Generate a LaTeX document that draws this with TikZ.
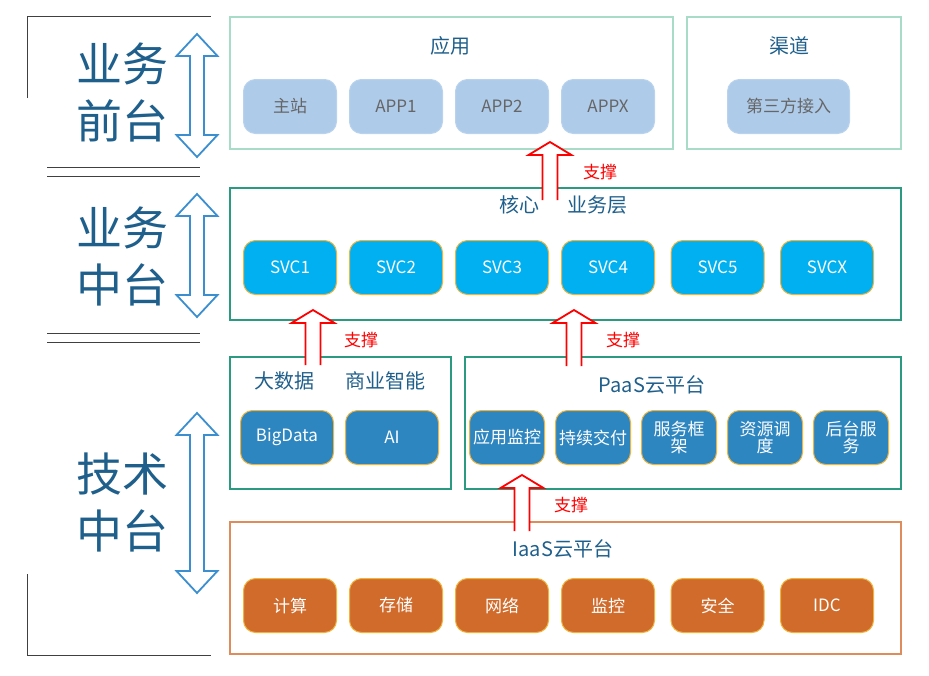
\documentclass[tikz,border=0pt]{standalone}
\usepackage{fontspec}
\setmainfont{Noto Sans CJK SC}
\usetikzlibrary{positioning,calc}
\definecolor{layerblue}{RGB}{31,95,139}
\definecolor{arrowblue}{RGB}{59,143,208}
\definecolor{frontgreen}{RGB}{168,220,200}
\definecolor{midteal}{RGB}{42,154,128}
\definecolor{iaasorange}{RGB}{222,140,92}
\definecolor{appfill}{RGB}{174,203,234}
\definecolor{svcfill}{RGB}{0,176,240}
\definecolor{paasfill}{RGB}{46,134,193}
\definecolor{iaasfill}{RGB}{208,107,43}
\definecolor{edgeamber}{RGB}{240,180,60}
\definecolor{rulegray}{RGB}{64,64,64}

\newcommand\supparrow[2]{\draw[supp] let \p1=(#1),\p2=(#2) in
  (\x1-7.5pt,\y1) -- (\x1-7.5pt,\y2-13pt) -- (\x1-21.5pt,\y2-13pt) -- (\x2,\y2)
  -- (\x1+21.5pt,\y2-13pt) -- (\x1+7.5pt,\y2-13pt) -- (\x1+7.5pt,\y1);}
\newcommand\scalearrow[3]{\draw[scalearr] (#1,#2) -- ({#1+20.5},{#2+22}) -- ({#1+7},{#2+22})
  -- ({#1+7},{#3-22}) -- ({#1+20.5},{#3-22}) -- (#1,#3) -- ({#1-20.5},{#3-22})
  -- ({#1-7},{#3-22}) -- ({#1-7},{#2+22}) -- ({#1-20.5},{#2+22}) -- cycle;}

\begin{document}
\begin{tikzpicture}[x=1pt,y=-1pt,
    panel/.style={draw,line width=2pt,minimum height=132pt,anchor=north west,inner sep=0pt},
    front/.style={panel,draw=frontgreen,line width=1.6pt},
    middle/.style={panel,draw=midteal},
    base/.style={panel,draw=iaasorange},
    title/.style={text=layerblue,font=\fontsize{20}{22}\selectfont,inner sep=0pt},
    side/.style={text=layerblue,align=center,font=\fontsize{46}{57}\selectfont,inner sep=0pt},
    box/.style={rounded corners=12pt,minimum width=93pt,minimum height=54pt,inner sep=0pt,
      outer sep=0pt,align=center,font=\fontsize{17}{17}\selectfont,line width=1pt},
    appbox/.style={box,fill=appfill,draw=appfill!85!white,text=black!60},
    svcbox/.style={box,fill=svcfill,draw=edgeamber,text=white},
    paasbox/.style={box,fill=paasfill,draw=edgeamber,text=white},
    paassub/.style={paasbox,minimum width=75pt},
    iaasbox/.style={box,fill=iaasfill,draw=edgeamber,text=white},
    supp/.style={draw=red,fill=white,line width=1.8pt},
    supplabel/.style={text=red,font=\fontsize{17}{19}\selectfont,inner sep=0pt},
    scalearr/.style={draw=arrowblue,fill=white,line width=1.8pt},
    rule/.style={draw=rulegray,line width=1pt}
  ]
    \useasboundingbox (0,0) rectangle (929,675);
    \draw[rule] (27,98) -- (27,16) -- (211,16);
    \draw[rule] (47,167) -- (200,167) (47,176) -- (200,176);
    \draw[rule] (47,333) -- (200,333) (47,342) -- (200,342);
    \draw[rule] (27,574) -- (27,655) -- (211,655);
    \node[side] (fronttxt) at (122.5,92.5) {业务\\前台};
    \node[side] (midtxt) at (122.5,256) {业务\\中台};
    \node[side] (techtxt) at (122.5,502) {技术\\中台};
    \scalearrow{197}{34}{157}
    \scalearrow{197}{194}{317}
    \scalearrow{197}{413}{593}

    \node[front,minimum width=443pt] (apps) at (229,16) {};
    \node[front,minimum width=214pt] (chan) at (686,16) {};
    \node[title] (appst) at (450,46) {应用};
    \node[title] (chant) at (789,46) {渠道};
    \node[appbox,anchor=west] (main) at (243.5,106.5) {主站};
    \node[appbox,right=13pt of main] (app1) {APP1};
    \node[appbox,right=13pt of app1] (app2) {APP2};
    \node[appbox,right=13pt of app2] (appx) {APPX};
    \node[appbox,minimum width=122pt] (third) at (788.5,106.5) {第三方接入};

    \node[middle,minimum width=671pt] (core) at (229,187) {};
    \node[title] (coret1) at (519,205) {核心};
    \node[title] (coret2) at (597,205) {业务层};
    \node[svcbox,anchor=west] (svc1) at (243.5,267.5) {SVC1};
    \node[svcbox,right=13pt of svc1] (svc2) {SVC2};
    \node[svcbox,right=13pt of svc2] (svc3) {SVC3};
    \node[svcbox,right=13pt of svc3] (svc4) {SVC4};
    \node[svcbox,right=16.5pt of svc4] (svc5) {SVC5};
    \node[svcbox,right=16.5pt of svc5] (svcx) {SVCX};

    \node[middle,minimum width=221pt] (bi) at (229,356) {};
    \node[title] (bit1) at (284,381) {大数据};
    \node[title] (bit2) at (385,381) {商业智能};
    \node[paasbox,anchor=west] (bigdata) at (240.5,437.5) {BigData};
    \node[paasbox,right=12pt of bigdata] (ai) {AI};

    \node[middle,minimum width=436pt] (paas) at (464,356) {};
    \node[title] (paast) at (652,385) {PaaS云平台};
    \node[paassub,anchor=west] (monitor) at (469.5,437.5) {应用监控};
    \node[paassub,right=11pt of monitor] (deliver) {持续交付};
    \node[paassub,right=11pt of deliver] (frame) {服务框\\架};
    \node[paassub,right=11pt of frame] (sched) {资源调\\度};
    \node[paassub,right=11pt of sched] (backend) {后台服\\务};

    \node[base,minimum width=671pt] (iaas) at (229,521) {};
    \node[title] (iaast) at (563,549) {IaaS云平台};
    \node[iaasbox,anchor=west] (compute) at (243.5,605.5) {计算};
    \node[iaasbox,right=13pt of compute] (store) {存储};
    \node[iaasbox,right=13pt of store] (net) {网络};
    \node[iaasbox,right=13pt of net] (watch) {监控};
    \node[iaasbox,right=16.5pt of watch] (safe) {安全};
    \node[iaasbox,right=16.5pt of safe] (idc) {IDC};

    \coordinate (c1) at (550,200);
    \coordinate (c2) at (550,142);
    \coordinate (c3) at (313,365);
    \coordinate (c4) at (313,310);
    \coordinate (c5) at (574,366);
    \coordinate (c6) at (574,310);
    \coordinate (c7) at (522,531);
    \coordinate (c8) at (522,475);
    \supparrow{c1}{c2}
    \supparrow{c3}{c4}
    \supparrow{c5}{c6}
    \supparrow{c7}{c8}
    \node[supplabel] (s1) at (600,172) {支撑};
    \node[supplabel] (s2) at (361,340) {支撑};
    \node[supplabel] (s3) at (623,340) {支撑};
    \node[supplabel] (s4) at (571,505) {支撑};
  \end{tikzpicture}
\end{document}
